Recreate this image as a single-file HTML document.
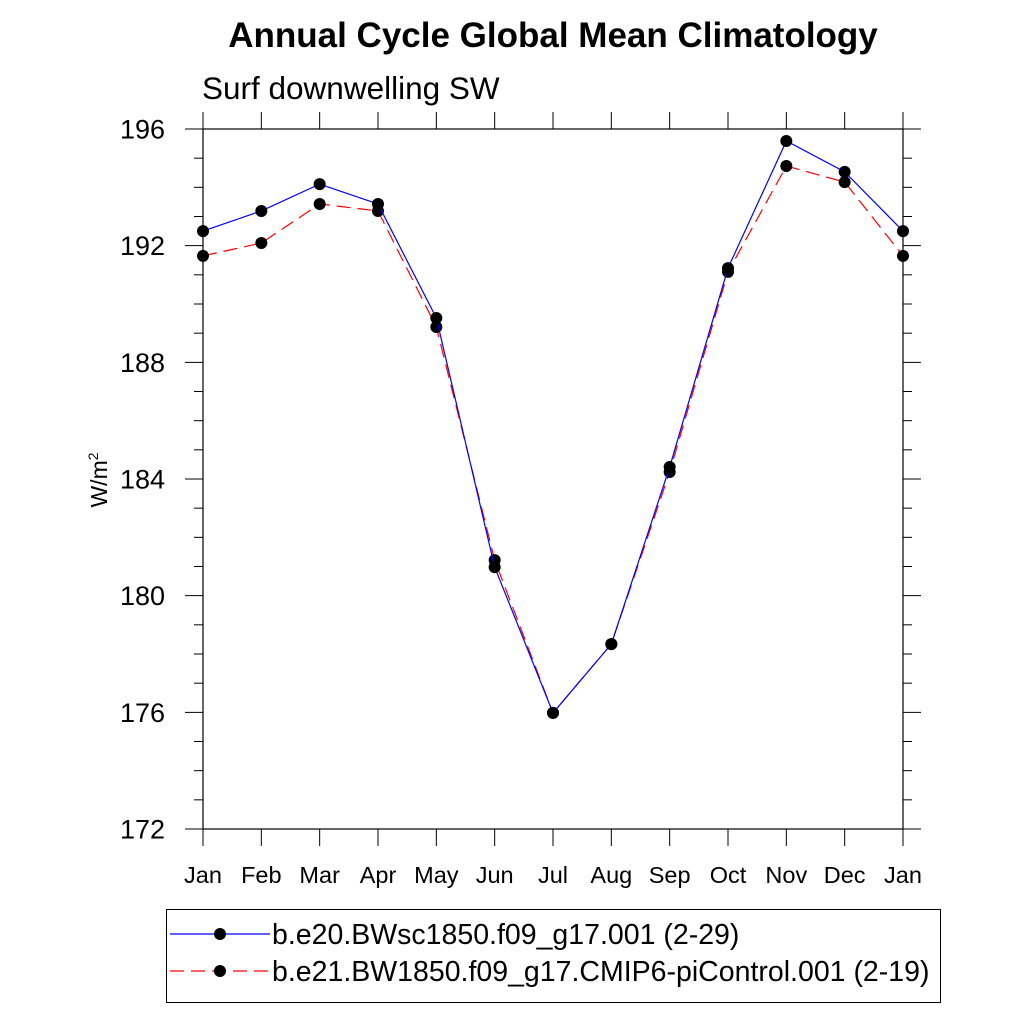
<!DOCTYPE html>
<html><head><meta charset="utf-8"><style>
html,body{margin:0;padding:0;background:#fff;}
svg{display:block;font-family:"Liberation Sans",sans-serif;}
</style></head><body>
<svg id="chart" width="1024" height="1024" viewBox="0 0 1024 1024">
<text x="553" y="47" font-size="35" font-weight="bold" text-anchor="middle">Annual Cycle Global Mean Climatology</text>
<text x="202" y="99" font-size="31.5">Surf downwelling SW</text>
<text transform="translate(107,480) rotate(-90)" font-size="23" text-anchor="middle">W/m<tspan font-size="14" dy="-9">2</tspan></text>
<g id="axes"></g>
<g id="series"></g>
<g>
<rect x="166.5" y="909.5" width="774" height="93" fill="none" stroke="#000" stroke-width="1"/>
<line x1="170" y1="934" x2="270" y2="934" stroke="#00f" stroke-width="1.2"/>
<circle cx="220" cy="934" r="6" fill="#000"/>
<text x="272" y="944" font-size="28.5">b.e20.BWsc1850.f09_g17.001 (2-29)</text>
<line x1="170" y1="971" x2="270" y2="971" stroke="#f00" stroke-width="1.2" stroke-dasharray="14,7"/>
<circle cx="220" cy="971" r="6" fill="#000"/>
<text x="272" y="981" font-size="28.5">b.e21.BW1850.f09_g17.CMIP6-piControl.001 (2-19)</text>
</g>
</svg>
<script>
const months = ["Jan","Feb","Mar","Apr","May","Jun","Jul","Aug","Sep","Oct","Nov","Dec","Jan"];
const seriesA = [192.5,193.19,194.11,193.43,189.52,180.98,175.98,178.34,184.41,191.23,195.59,194.53,192.5];
const seriesB = [191.65,192.09,193.43,193.19,189.21,181.22,175.98,178.34,184.24,191.10,194.73,194.18,191.65];
const yTicks = [172,176,180,184,188,192,196];
const NS="http://www.w3.org/2000/svg";
const X0=203,X1=903,Y0=129,Y1=829,YMIN=172,YMAX=196;
const xs=i=>X0+(X1-X0)*i/(months.length-1);
const ys=v=>Y1-(v-YMIN)/(YMAX-YMIN)*(Y1-Y0);
function mk(tag,attrs,parent){const e=document.createElementNS(NS,tag);for(const k in attrs)e.setAttribute(k,attrs[k]);parent.appendChild(e);return e;}
const ax=document.getElementById('axes');
const fr=mk('rect',{x:X0,y:Y0,width:X1-X0,height:Y1-Y0,fill:'none',stroke:'#000','stroke-width':1.2},ax);


for(let v=YMIN;v<=YMAX;v++){
  const maj=(v-YMIN)%4===0, L=maj?18:9, y=ys(v);
  const t1=mk('line',{x1:X0-L,y1:y,x2:X0,y2:y,stroke:'#000','stroke-width':1},ax);
  
  
  const t2=mk('line',{x1:X1,y1:y,x2:X1+L,y2:y,stroke:'#000','stroke-width':1},ax);
  
  
}
yTicks.forEach(v=>{
  const t=mk('text',{x:X0-38,y:ys(v)+9.5,'font-size':27,'text-anchor':'end'},ax);
  t.textContent=v;
  
  
});
months.forEach((m,i)=>{
  const x=xs(i);
  const a=mk('line',{x1:x,y1:Y1,x2:x,y2:Y1+17,stroke:'#000','stroke-width':1},ax);
  
  
  const b=mk('line',{x1:x,y1:Y0-17,x2:x,y2:Y0,stroke:'#000','stroke-width':1},ax);
  
  
  const t=mk('text',{x:x,y:883,'font-size':23.5,'text-anchor':'middle'},ax);
  t.textContent=m;
  
  
});
const sg=document.getElementById('series');
function draw(vals,color,dash,name){
  const p=mk('polyline',{points:vals.map((v,i)=>xs(i)+','+ys(v)).join(' '),fill:'none',stroke:color,'stroke-width':1.2,'stroke-dasharray':dash},sg);
  
  
  vals.forEach((v,i)=>{
    const c=mk('circle',{cx:xs(i),cy:ys(v),r:6,fill:'#000'},sg);
    
    
  });
}
draw(seriesB,'#f00','14,7','series-b');
draw(seriesA,'#00f','none','series-a');
</script>
</body></html>
